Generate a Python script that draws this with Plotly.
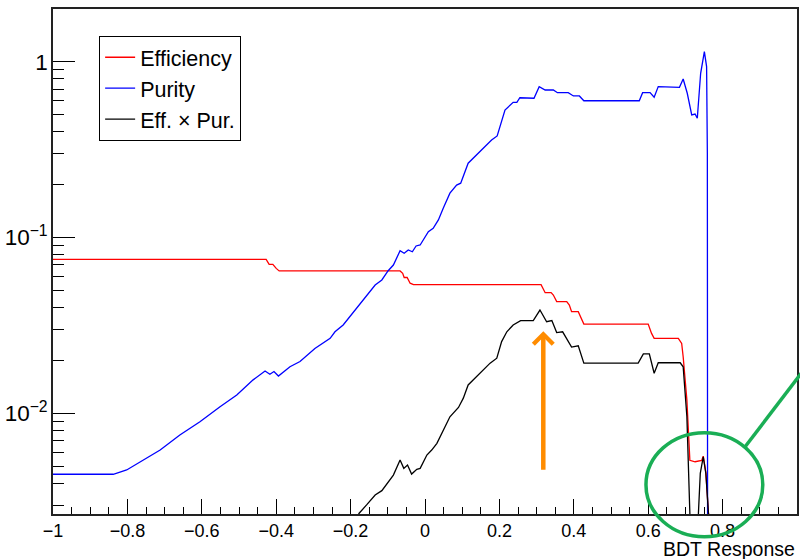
import plotly.graph_objects as go

# ---- data (BDT response scan) ----
eff_x = [-1.0, -0.427, -0.419, -0.409, -0.400, -0.392, -0.067, -0.060, -0.056, -0.048,
         -0.040, -0.031, 0.312, 0.318, 0.323, 0.339, 0.345, 0.354, 0.381, 0.388,
         0.394, 0.412, 0.421, 0.427, 0.600, 0.609, 0.616, 0.681, 0.690, 0.694,
         0.704, 0.712, 0.726, 0.744, 0.748, 0.755, 0.762, 0.769]
eff_y = [0.0752, 0.0752, 0.0705, 0.0705, 0.0668, 0.0646, 0.0646, 0.0626, 0.0593, 0.0593,
         0.0550, 0.0540, 0.0540, 0.0514, 0.0486, 0.0486, 0.0471, 0.0432, 0.0432, 0.0413,
         0.0379, 0.0379, 0.0340, 0.0322, 0.0322, 0.0285, 0.0267, 0.0267, 0.0250, 0.0210,
         0.0119, 0.0054, 0.0053, 0.0054, 0.0057, 0.0046, 0.0027, 0.0025]

pur_x = [-1.0, -0.838, -0.802, -0.757, -0.712, -0.659, -0.605, -0.551, -0.506, -0.462,
         -0.430, -0.417, -0.406, -0.394, -0.363, -0.336, -0.296, -0.255, -0.242, -0.220,
         -0.202, -0.161, -0.134, -0.116, -0.099, -0.085, -0.067, -0.056, -0.045, -0.034,
         -0.024, -0.013, 0.009, 0.022, 0.036, 0.049, 0.067, 0.085, 0.096, 0.116,
         0.139, 0.157, 0.179, 0.194, 0.215, 0.237, 0.247, 0.255, 0.293, 0.307,
         0.323, 0.345, 0.356, 0.385, 0.399, 0.415, 0.427, 0.576, 0.585, 0.605,
         0.616, 0.627, 0.684, 0.694, 0.705, 0.717, 0.726, 0.732, 0.741, 0.751,
         0.757, 0.759, 0.760]
pur_y = [0.00450, 0.00450, 0.00476, 0.00542, 0.00618, 0.00752, 0.00896, 0.0109, 0.0127, 0.0155,
         0.0174, 0.0167, 0.0173, 0.0163, 0.0184, 0.0197, 0.0234, 0.0267, 0.0291, 0.0318,
         0.0355, 0.0451, 0.0537, 0.0574, 0.0648, 0.0698, 0.0842, 0.0814, 0.0850, 0.0831,
         0.0896, 0.0908, 0.108, 0.113, 0.126, 0.147, 0.179, 0.199, 0.204, 0.265,
         0.295, 0.322, 0.359, 0.379, 0.532, 0.589, 0.589, 0.625, 0.621, 0.723,
         0.692, 0.692, 0.668, 0.668, 0.640, 0.640, 0.601, 0.601, 0.668, 0.668,
         0.629, 0.723, 0.717, 0.799, 0.663, 0.499, 0.505, 0.478, 0.861, 1.143,
         0.94, 0.30, 0.0001]

ep_x = [-0.190, -0.177, -0.157, -0.134, -0.116, -0.099, -0.085, -0.067, -0.057, -0.047,
        -0.036, -0.022, -0.013, 0.005, 0.018, 0.032, 0.049, 0.067, 0.090, 0.103,
        0.116, 0.134, 0.157, 0.175, 0.193, 0.206, 0.220, 0.237, 0.257, 0.291,
        0.309, 0.327, 0.341, 0.354, 0.370, 0.394, 0.412, 0.427, 0.573, 0.587,
        0.603, 0.616, 0.627, 0.686, 0.694, 0.704, 0.712, 0.715, 0.731, 0.735,
        0.740, 0.748, 0.755, 0.762, 0.765]
ep_y = [0.0024, 0.0027, 0.00301, 0.00343, 0.00363, 0.00408, 0.00445, 0.00542, 0.00486, 0.00508,
        0.00451, 0.00480, 0.00486, 0.00579, 0.00618, 0.00675, 0.00804, 0.00956, 0.0108, 0.0122,
        0.0145, 0.0158, 0.0176, 0.0193, 0.0206, 0.0256, 0.0291, 0.0318, 0.0337, 0.0337,
        0.0387, 0.0332, 0.0337, 0.0288, 0.0291, 0.0238, 0.0242, 0.0193, 0.0193, 0.0218,
        0.0218, 0.0169, 0.0194, 0.0194, 0.0184, 0.00956, 0.0027, 0.0001, 0.0001, 0.0027,
        0.00455, 0.00566, 0.00455, 0.0027, 0.0001]

series_names = ["Efficiency", "Purity", "Eff. \u00d7 Pur."]
series_colors = ["#ff0000", "#0000ff", "#000000"]

FONT = "Liberation Sans, Helvetica, Arial, sans-serif"

fig = go.Figure()
for name, xs, ys, col in zip(series_names, [eff_x, pur_x, ep_x], [eff_y, pur_y, ep_y], series_colors):
    fig.add_trace(go.Scatter(x=xs, y=ys, mode="lines", name=name,
                             line=dict(color=col, width=1.3)))

fig.update_layout(
    width=800, height=559,
    margin=dict(l=53, r=3, t=9, b=45, autoexpand=False),
    paper_bgcolor="white", plot_bgcolor="white",
    font=dict(family=FONT, color="black", size=18),
    showlegend=True,
    legend=dict(x=0.062, y=0.947, xanchor="left", yanchor="top",
                bordercolor="black", borderwidth=1, bgcolor="white",
                font=dict(size=21.5, family=FONT), itemwidth=30,
                tracegroupgap=0),
)

fig.update_xaxes(
    range=[-1, 1], dtick=0.2, tick0=-1, showgrid=False, zeroline=False, automargin=False,
    ticks="inside", ticklen=15, tickwidth=1.2, tickcolor="black",
    minor=dict(ticks="inside", ticklen=7, dtick=0.05, tickcolor="black", tickwidth=1, showgrid=False),
    showline=True, linecolor="#222", linewidth=1.5, mirror=True,
    tickfont=dict(size=18, family=FONT),
)
fig.update_yaxes(
    type="log", range=[-2.573, 0.301], dtick=1, exponentformat="power",
    showgrid=False, zeroline=False, automargin=False,
    ticks="inside", ticklen=22, tickwidth=1.2, tickcolor="black",
    minor=dict(ticks="inside", ticklen=11, dtick="D1", tickcolor="black", tickwidth=1, showgrid=False),
    showline=True, linecolor="#222", linewidth=1.5, mirror=True,
    tickfont=dict(size=18, family=FONT),
)

# x-axis title, right aligned at end of axis (ROOT style)
fig.add_annotation(text="BDT Response", xref="paper", yref="paper", x=1.0, y=-0.069,
                   xanchor="right", yanchor="middle", showarrow=False,
                   font=dict(size=19.5, family=FONT, color="black"))

# orange arrow marking the maximum of Eff x Pur
fig.add_annotation(text="", xref="paper", yref="paper", x=0.659, y=0.362,
                   ax=0, ay=140, showarrow=True, arrowhead=4, arrowsize=0.85,
                   arrowwidth=4.5, arrowcolor="#ff8c00", standoff=0)

# green ellipse + line highlighting the high-response region
GREEN = "#1aae55"
fig.add_shape(type="circle", xref="paper", yref="paper",
              x0=0.797, x1=0.954, y0=-0.045, y1=0.161,
              line=dict(color=GREEN, width=3.5))
fig.add_shape(type="line", xref="paper", yref="paper",
              x0=0.930, y0=0.1327, x1=1.0175, y1=0.3012,
              line=dict(color=GREEN, width=3.5))

fig.write_html("out.html", config={"displayModeBar": False},
               post_script="document.body.style.margin='0px';document.body.style.overflow='hidden';")
